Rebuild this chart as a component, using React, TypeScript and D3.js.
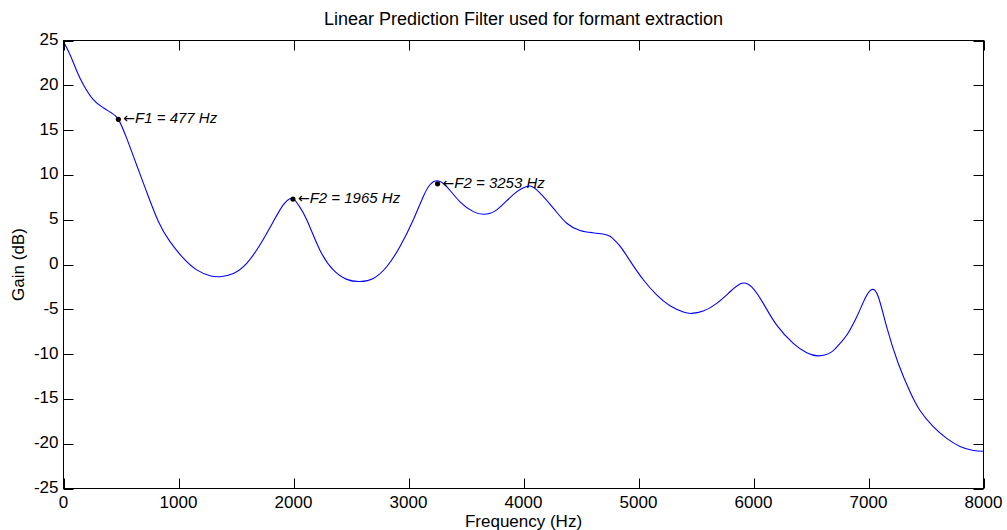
import React from "react";
import * as d3 from "d3";

const freqHz = [0, 57, 115, 172, 259, 346, 419, 477, 549, 636, 723, 825, 926, 1042, 1158, 1274, 1361, 1477, 1593, 1709, 1825, 1911, 1985, 2040, 2115, 2230, 2346, 2463, 2578, 2694, 2810, 2926, 3042, 3129, 3187, 3250, 3332, 3448, 3564, 3651, 3767, 3911, 4028, 4115, 4259, 4376, 4491, 4600, 4690, 4752, 4800, 4854, 4941, 5042, 5158, 5274, 5390, 5462, 5563, 5680, 5796, 5897, 5984, 6085, 6202, 6346, 6463, 6564, 6680, 6752, 6810, 6897, 6970, 7028, 7085, 7158, 7259, 7361, 7448, 7563, 7680, 7796, 7911, 8000];
const gainDb = [24.9, 23.4, 21.6, 20.1, 18.4, 17.5, 16.9, 16.2, 14.1, 11.1, 8.1, 4.8, 2.55, 0.7, -0.6, -1.25, -1.36, -1.0, 0.13, 2.2, 4.8, 6.65, 7.4, 6.7, 5.0, 1.6, -0.6, -1.66, -1.9, -1.55, -0.25, 2.0, 5.0, 7.6, 8.9, 9.35, 8.7, 7.0, 5.9, 5.6, 6.1, 7.8, 8.7, 8.33, 6.3, 4.6, 3.8, 3.55, 3.4, 3.15, 2.6, 1.8, 0.13, -1.7, -3.4, -4.6, -5.3, -5.46, -5.2, -4.34, -3.04, -2.1, -2.5, -4.34, -6.77, -8.8, -9.86, -10.2, -9.75, -8.8, -7.9, -5.85, -3.8, -2.8, -3.6, -6.96, -11.05, -14.2, -16.3, -18.1, -19.4, -20.3, -20.75, -20.85];

const markerFreq = [477, 1995, 3253];
const markerGain = [16.2, 7.3, 9.0];
const markerLabels = ["F1 = 477 Hz", "F2 = 1965 Hz", "F2 = 3253 Hz"];

const xTicks = [0, 1000, 2000, 3000, 4000, 5000, 6000, 7000, 8000];
const yTicks = [-25, -20, -15, -10, -5, 0, 5, 10, 15, 20, 25];

const title = "Linear Prediction Filter used for formant extraction";
const xLabel = "Frequency (Hz)";
const yLabel = "Gain (dB)";

export default function App() {
  const W = 1007, H = 530;
  const left = 63.5, right = 983.5, top = 40.5, bottom = 488.5;
  const x = d3.scaleLinear().domain([0, 8000]).range([left, right]);
  const y = d3.scaleLinear().domain([-25, 25]).range([bottom, top]);
  const pts: [number, number][] = freqHz.map((f, i) => [f, gainDb[i]]);
  const line = d3
    .line<[number, number]>()
    .x((d) => x(d[0]))
    .y((d) => y(d[1]))
    .curve(d3.curveNatural);
  const tl = 10;
  const font = "Arial, 'Liberation Sans', Helvetica, sans-serif";
  return (
    <svg width={W} height={H} style={{ position: "absolute", left: 0, top: 0, background: "#fff" }} fontFamily={font}>
      <rect x={0} y={0} width={W} height={H} fill="#fff" />
      <path d={line(pts) || ""} fill="none" stroke="#0000ff" strokeWidth={1.1} />
      <rect x={left} y={top} width={right - left} height={bottom - top} fill="none" stroke="#000" strokeWidth={1} />
      {xTicks.map((t) => (
        <g key={"x" + t}>
          <line x1={Math.round(x(t)) + 0.5} x2={Math.round(x(t)) + 0.5} y1={bottom} y2={bottom - tl} stroke="#000" />
          <line x1={Math.round(x(t)) + 0.5} x2={Math.round(x(t)) + 0.5} y1={top} y2={top + tl} stroke="#000" />
          <text x={x(t)} y={bottom + 15} fontSize={17} textAnchor="middle" dominantBaseline="middle">{t}</text>
        </g>
      ))}
      {yTicks.map((t) => (
        <g key={"y" + t}>
          <line x1={left} x2={left + tl} y1={Math.round(y(t)) + 0.5} y2={Math.round(y(t)) + 0.5} stroke="#000" />
          <line x1={right} x2={right - tl} y1={Math.round(y(t)) + 0.5} y2={Math.round(y(t)) + 0.5} stroke="#000" />
          <text x={left - 5} y={y(t)} fontSize={17} textAnchor="end" dominantBaseline="middle">{t}</text>
        </g>
      ))}
      {markerFreq.map((f, i) => (
        <g key={"m" + i}>
          <circle cx={x(f)} cy={y(markerGain[i])} r={2.6} fill="#000" />
          <text x={x(f) + 5} y={y(markerGain[i])} fontSize={15} dominantBaseline="middle">
            <tspan fontStyle="normal" fontFamily="'DejaVu Sans', sans-serif" fontSize={14}>←</tspan>
            <tspan fontStyle="italic">{markerLabels[i]}</tspan>
          </text>
        </g>
      ))}
      <text x={(left + right) / 2} y={20} fontSize={18} textAnchor="middle" dominantBaseline="middle">{title}</text>
      <text x={(left + right) / 2} y={523} fontSize={17} textAnchor="middle" dominantBaseline="middle">{xLabel}</text>
      <text transform={`translate(20, ${(top + bottom) / 2}) rotate(-90)`} fontSize={17} textAnchor="middle" dominantBaseline="middle">{yLabel}</text>
    </svg>
  );
}
